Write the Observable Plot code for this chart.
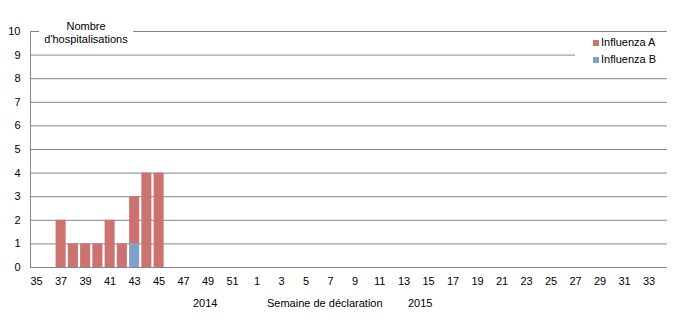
<!DOCTYPE html>
<html><head><meta charset="utf-8">
<script src="https://cdn.jsdelivr.net/npm/d3@7"></script>
<script src="https://cdn.jsdelivr.net/npm/@observablehq/plot@0.6"></script>
<style>
body{margin:0;background:#fff;font-family:"Liberation Sans",Arial,sans-serif;}
#wrap{position:relative;width:680px;height:325px;}
.lab{position:absolute;font-size:11px;color:#000;white-space:nowrap;line-height:13px;}
.box{position:absolute;background:#fff;}
.sw{display:inline-block;width:6px;height:6px;margin-right:2px;vertical-align:0px;}
</style></head><body><div id="wrap"></div>
<script>
const weeks = ["35","36","37","38","39","40","41","42","43","44","45","46","47","48","49","50","51","52",
  "1","2","3","4","5","6","7","8","9","10","11","12","13","14","15","16","17","18","19","20",
  "21","22","23","24","25","26","27","28","29","30","31","32","33","34"];
const tickWeeks = ["35","37","39","41","43","45","47","49","51","1","3","5","7","9","11","13","15","17","19","21","23","25","27","29","31","33"];
const caseWeeks = ["37","38","39","40","41","42","43","44","45"];
const influenzaA = [2,1,1,1,2,1,2,4,4];
const influenzaB = [0,0,0,0,0,0,1,0,0];
const yTicks = [0,1,2,3,4,5,6,7,8,9,10];
const seriesNames = ["Influenza A","Influenza B"];
const seriesColors = ["#CC7370","#7FA1CE"];

const data = [];
caseWeeks.forEach((w,i)=>data.push({week:w, series:"Influenza B", value:influenzaB[i]}));
caseWeeks.forEach((w,i)=>data.push({week:w, series:"Influenza A", value:influenzaA[i]}));

const grid = "#868686";
const chart = Plot.plot({
  width:680, height:325,
  marginLeft:30, marginRight:13, marginTop:31, marginBottom:58,
  style:{fontFamily:"Liberation Sans, Arial, sans-serif", fontSize:"11px", color:"#000", background:"#fff"},
  x:{type:"band", domain:weeks, paddingInner:0.18, paddingOuter:0.09, round:false},
  y:{domain:[0,10]},
  color:{domain:seriesNames, range:seriesColors},
  marks:[
    Plot.ruleY(yTicks, {stroke:grid, strokeWidth:1}),
    Plot.frame({anchor:"left", stroke:grid}),
    Plot.barY(data, {x:"week", y:"value", fill:"series"}),
    Plot.axisX({ticks:tickWeeks, tickSize:0, tickPadding:10, label:null}),
    Plot.axisY({ticks:yTicks, tickSize:0, tickPadding:10, label:null})
  ]
});
const wrap = document.getElementById("wrap");
wrap.appendChild(chart);

function add(html, cls, style){
  const d = document.createElement("div");
  d.className = cls; d.innerHTML = html;
  Object.assign(d.style, style);
  wrap.appendChild(d);
}
add('<div style="text-align:center">Nombre<br>d\'hospitalisations</div>', "lab box", {left:"39px", top:"19.5px", width:"94px", height:"26px"});
add('<div style="position:absolute;left:18px;top:3px"><span class="sw" style="background:'+seriesColors[0]+'"></span>'+seriesNames[0]+'</div>'
  + '<div style="position:absolute;left:18px;top:19.5px"><span class="sw" style="background:'+seriesColors[1]+'"></span>'+seriesNames[1]+'</div>',
  "lab box", {left:"575px", top:"33px", width:"92px", height:"36px"});
add("2014", "lab", {left:"193px", top:"296.5px"});
add("Semaine de déclaration", "lab", {left:"267px", top:"296.5px"});
add("2015", "lab", {left:"408px", top:"296.5px"});
</script></body></html>
